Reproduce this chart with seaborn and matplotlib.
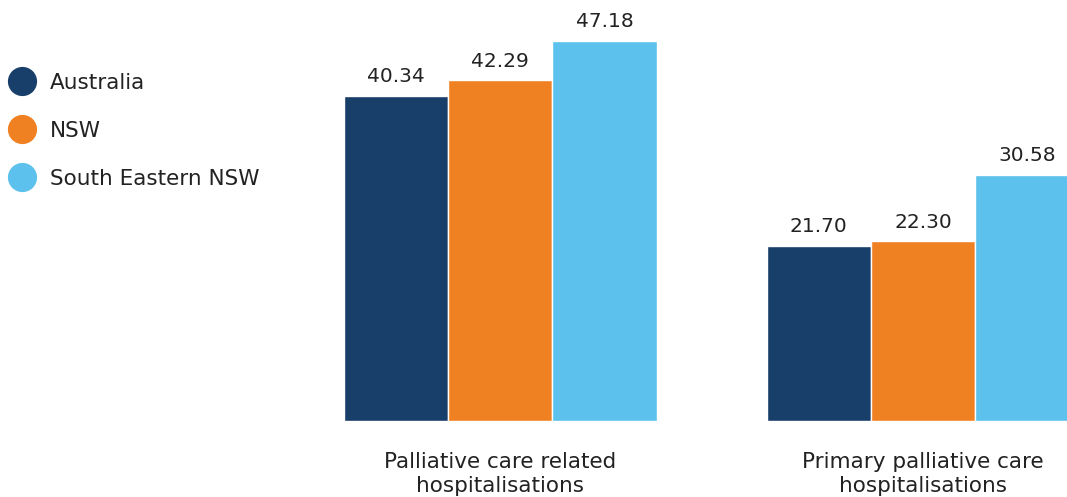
import matplotlib
matplotlib.use("Agg")
import matplotlib.pyplot as plt
import seaborn as sns
import pandas as pd
from matplotlib.lines import Line2D

categories = ["Palliative care related\nhospitalisations", "Primary palliative care\nhospitalisations"]
series = ["Australia", "NSW", "South Eastern NSW"]
australia = [40.34, 21.70]
nsw = [42.29, 22.30]
se_nsw = [47.18, 30.58]
colors = ["#183E6A", "#F08122", "#5CC1ED"]

rows = []
for s, vals in zip(series, [australia, nsw, se_nsw]):
    for c, v in zip(categories, vals):
        rows.append({"category": c, "series": s, "value": v})
df = pd.DataFrame(rows)

sns.set_style("white")
plt.rcParams["font.family"] = ["DejaVu Sans"]
txt = "#222222"

fig = plt.figure(figsize=(10.67, 4.97), dpi=100)
ax = fig.add_axes([344 / 1067, 1 - 421 / 497, (1067 - 344) / 1067, 421 / 497])
sns.barplot(data=df, x="category", y="value", hue="series", palette=colors,
            width=0.74, ax=ax, legend=False, edgecolor="white", linewidth=1,
            saturation=1)
for cont in ax.containers:
    ax.bar_label(cont, fmt="%.2f", padding=7, fontsize=14.5, color=txt)

ax.set_xlim(-0.369, 1.34)
ax.set_ylim(0, 52.27)
ax.set_xlabel("")
ax.set_ylabel("")
ax.set_yticks([])
ax.tick_params(axis="x", length=0, pad=22, labelsize=15.5, labelcolor=txt)
for lbl in ax.get_xticklabels():
    lbl.set_linespacing(1.3)
sns.despine(ax=ax, left=True, bottom=True)

handles = [Line2D([0], [0], marker="o", linestyle="none", markersize=20,
                  markerfacecolor=col, markeredgecolor=col) for col in colors]
fig.legend(handles, series, loc="upper left", bbox_to_anchor=(-0.001, 1 - 64 / 497),
           frameon=False, fontsize=15.5, labelspacing=1.3, handletextpad=0.65,
           borderaxespad=0, handlelength=1.3, labelcolor=txt)

fig.savefig("out.png", dpi=100)
